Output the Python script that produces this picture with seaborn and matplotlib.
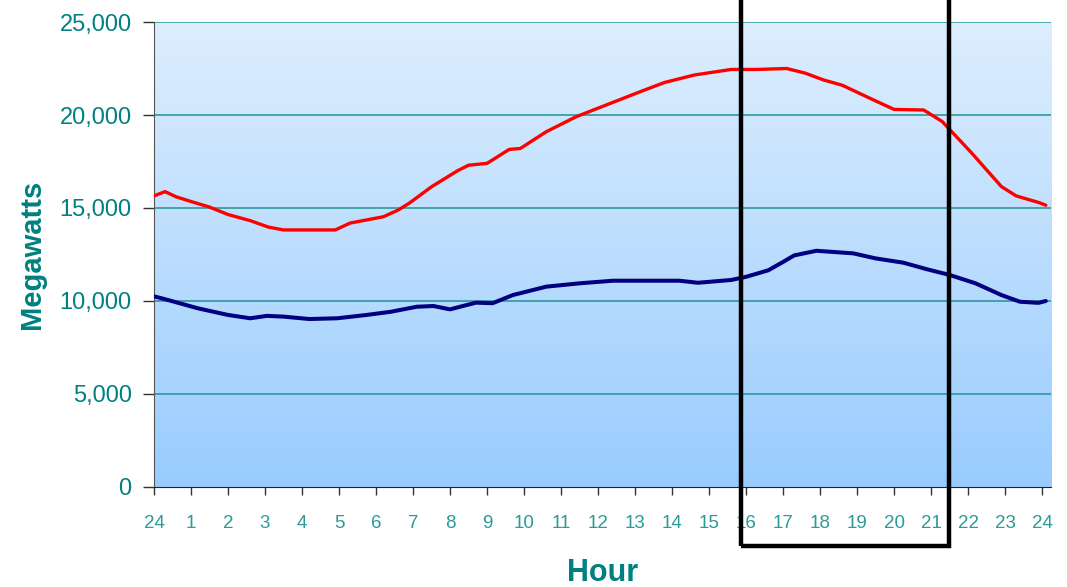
import numpy as np
import seaborn as sns
import matplotlib.pyplot as plt
from matplotlib.patches import Rectangle

# Hourly load readings (hours after midnight, megawatts)
red_hours = [0.0, 0.3, 0.6, 1.0, 1.5, 2.0, 2.6, 3.1, 3.5, 4.9, 5.3, 6.2, 6.6, 6.9, 7.5,
             8.2, 8.5, 9.0, 9.6, 9.9, 10.6, 11.4, 12.3, 13.2, 13.8, 14.6, 15.6, 16.3,
             17.1, 17.6, 18.1, 18.6, 19.4, 20.0, 20.8, 21.3, 22.1, 22.9, 23.3, 23.9, 24.1]
red_mw = [15650, 15880, 15600, 15350, 15050, 14650, 14320, 13970, 13820, 13820, 14190,
          14530, 14890, 15260, 16140, 17000, 17300, 17400, 18150, 18200, 19100, 19900,
          20600, 21300, 21750, 22150, 22450, 22450, 22500, 22250, 21880, 21600, 20850,
          20300, 20270, 19650, 17950, 16150, 15650, 15300, 15150]

blue_hours = [0.0, 0.2, 1.2, 2.0, 2.6, 3.05, 3.5, 4.2, 4.95, 5.75, 6.4, 7.1, 7.55, 8.0,
              8.7, 9.15, 9.7, 10.6, 11.5, 12.4, 14.2, 14.7, 15.6, 16.0, 16.6, 17.0, 17.3,
              17.9, 18.9, 19.5, 20.25, 20.9, 21.5, 22.2, 22.9, 23.4, 23.9, 24.1]
blue_mw = [10250, 10150, 9600, 9250, 9070, 9200, 9160, 9030, 9070, 9250, 9420, 9690,
           9730, 9550, 9910, 9880, 10320, 10770, 10950, 11090, 11090, 10980, 11130, 11300,
           11650, 12100, 12450, 12700, 12560, 12290, 12060, 11700, 11400, 10950, 10320,
           9960, 9900, 10000]

tick_labels = ['24'] + [str(h) for h in range(1, 25)]
teal = '#008080'

sns.set_style('white')
plt.rcParams['font.family'] = ['Liberation Sans', 'DejaVu Sans']

fig = plt.figure(figsize=(10.67, 5.87), dpi=100)
ax = fig.add_axes([0.1443, 0.1704, 0.8407, 0.7921])

xmax = 24.24
# vertical gradient background
grad = np.linspace(0, 1, 256).reshape(-1, 1)
cmap = sns.blend_palette(['#99CCFF', '#DDEEFD'], as_cmap=True)
ax.imshow(grad, cmap=cmap, origin='lower', aspect='auto',
          extent=[0, xmax, 0, 25000], zorder=0)

sns.lineplot(x=red_hours, y=red_mw, color='#FF0000', lw=2.4, sort=False, ax=ax, zorder=3)
sns.lineplot(x=blue_hours, y=blue_mw, color='#000080', lw=2.9, sort=False, ax=ax, zorder=3)

for yv in range(5000, 25001, 5000):
    ax.axhline(yv, color='#2E9999', lw=1.2, zorder=2)

ax.set_xlim(0, xmax)
ax.set_ylim(0, 25000)
ax.set_xticks(range(25))
ax.set_xticklabels(tick_labels)
ax.set_yticks(range(0, 25001, 5000))
ax.set_yticklabels([f'{v:,}' for v in range(0, 25001, 5000)])

for s in ['top', 'right']:
    ax.spines[s].set_visible(False)
ax.spines['left'].set_color('#555555')
ax.spines['bottom'].set_color('#222222')
ax.tick_params(axis='y', direction='out', length=8, width=1, color='#333333',
               labelsize=17, labelcolor=teal, pad=8, left=True)
ax.tick_params(axis='x', direction='out', length=6, width=1, color='#333333',
               labelsize=13.5, labelcolor='#2A9A9A', pad=14, bottom=True)

ax.set_ylabel('Megawatts', fontsize=21, fontweight='bold', color=teal, labelpad=10)
fig.text(0.565, 0.01, 'Hour', fontsize=22, fontweight='bold', color=teal,
         ha='center', va='baseline')

# highlight box around evening peak
box = Rectangle((15.86, -3170), 5.63, 30500, fill=False, ec='black', lw=3.2,
                clip_on=False, zorder=5)
ax.add_patch(box)

fig.savefig('out.png', dpi=100)
